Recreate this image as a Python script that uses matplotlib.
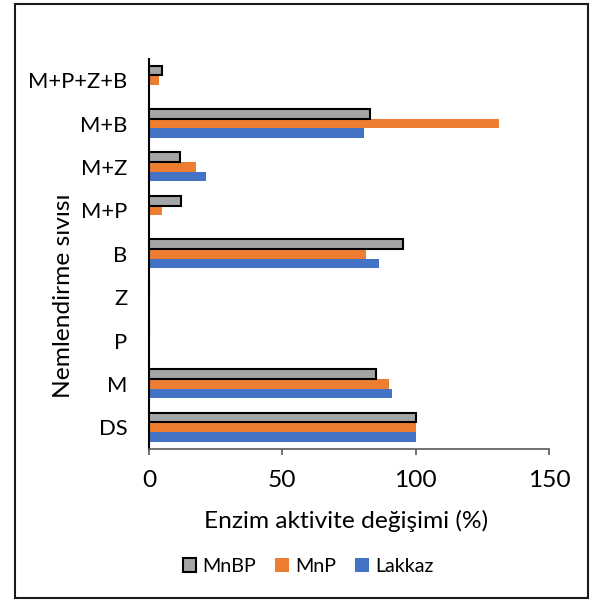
import matplotlib
matplotlib.use("Agg")
import matplotlib.pyplot as plt
from matplotlib.patches import Patch, Rectangle
import numpy as np

categories = ["DS", "M", "P", "Z", "B", "M+P", "M+Z", "M+B", "M+P+Z+B"]
mnbp = [100, 85.2, 0, 0, 95.3, 11.9, 11.5, 83.0, 5.0]
mnp = [100, 90.1, 0, 0, 81.3, 4.7, 17.6, 131.2, 3.8]
lakkaz = [100, 91.2, 0, 0, 86.2, 0, 21.2, 80.5, 0]
series_names = ["MnBP", "MnP", "Lakkaz"]
x_ticks = [0, 50, 100, 150]

plt.rcParams['font.family'] = ['Lato', 'DejaVu Sans']
PX = 72 / 100.0
fs = 24.5 * PX
fs_y = 22 * PX
fs_leg = 19.8 * PX

fig = plt.figure(figsize=(5.9, 6.01), dpi=100)
ax = fig.add_axes([149 / 590, 1 - 449 / 601, 400 / 590, 390.5 / 601])

y = np.arange(len(categories))
h = 0.223
ax.barh(y + h, mnbp, height=h, color="#A5A5A5", edgecolor="black", linewidth=1.5, label=series_names[0], zorder=3)
ax.barh(y, mnp, height=h, color="#ED7D31", label=series_names[1], zorder=2)
ax.barh(y - h, lakkaz, height=h, color="#4472C4", label=series_names[2], zorder=2)

ax.set_xlim(0, 150)
ax.set_ylim(-0.5, len(categories) - 0.5)
ax.set_xticks(x_ticks)
ax.set_xticklabels([str(t) for t in x_ticks])
ax.set_yticks(y)
ax.set_yticklabels(categories)

for s in ["top", "right"]:
    ax.spines[s].set_visible(False)
ax.spines["left"].set_color("black")
ax.spines["left"].set_linewidth(1.5)
ax.spines["bottom"].set_color("#595959")
ax.spines["bottom"].set_linewidth(1.2)
ax.tick_params(axis="x", direction="out", length=4.2, width=1.2, color="#595959", labelsize=fs, pad=11)
ax.tick_params(axis="y", length=0, labelsize=fs_y, pad=15.5)

ax.set_xlabel("Enzim aktivite değişimi (%)", fontsize=fs)
ax.xaxis.label.set_va("center")
ax.xaxis.set_label_coords(0.4925, -0.185)
ax.set_ylabel("Nemlendirme sıvısı", fontsize=fs)
ax.yaxis.label.set_va("center")
ax.yaxis.set_label_coords(-0.215, 0.392)

handles = [Patch(facecolor="#A5A5A5", edgecolor="black", linewidth=1.5),
           Patch(facecolor="#ED7D31"), Patch(facecolor="#4472C4")]
fig.legend(handles, series_names, loc="center", bbox_to_anchor=(308 / 590, 1 - 566 / 601),
           ncol=3, frameon=False, fontsize=fs_leg, handlelength=0.7, handleheight=0.7,
           handletextpad=0.3, columnspacing=0.97, borderpad=0)

fig.patches.append(Rectangle((15 / 590, 1 - 598 / 601), 573 / 590, 594 / 601,
                             transform=fig.transFigure, fill=False, edgecolor="#1a1a1a",
                             linewidth=1.5, zorder=10))

fig.savefig("out.png", dpi=100)
